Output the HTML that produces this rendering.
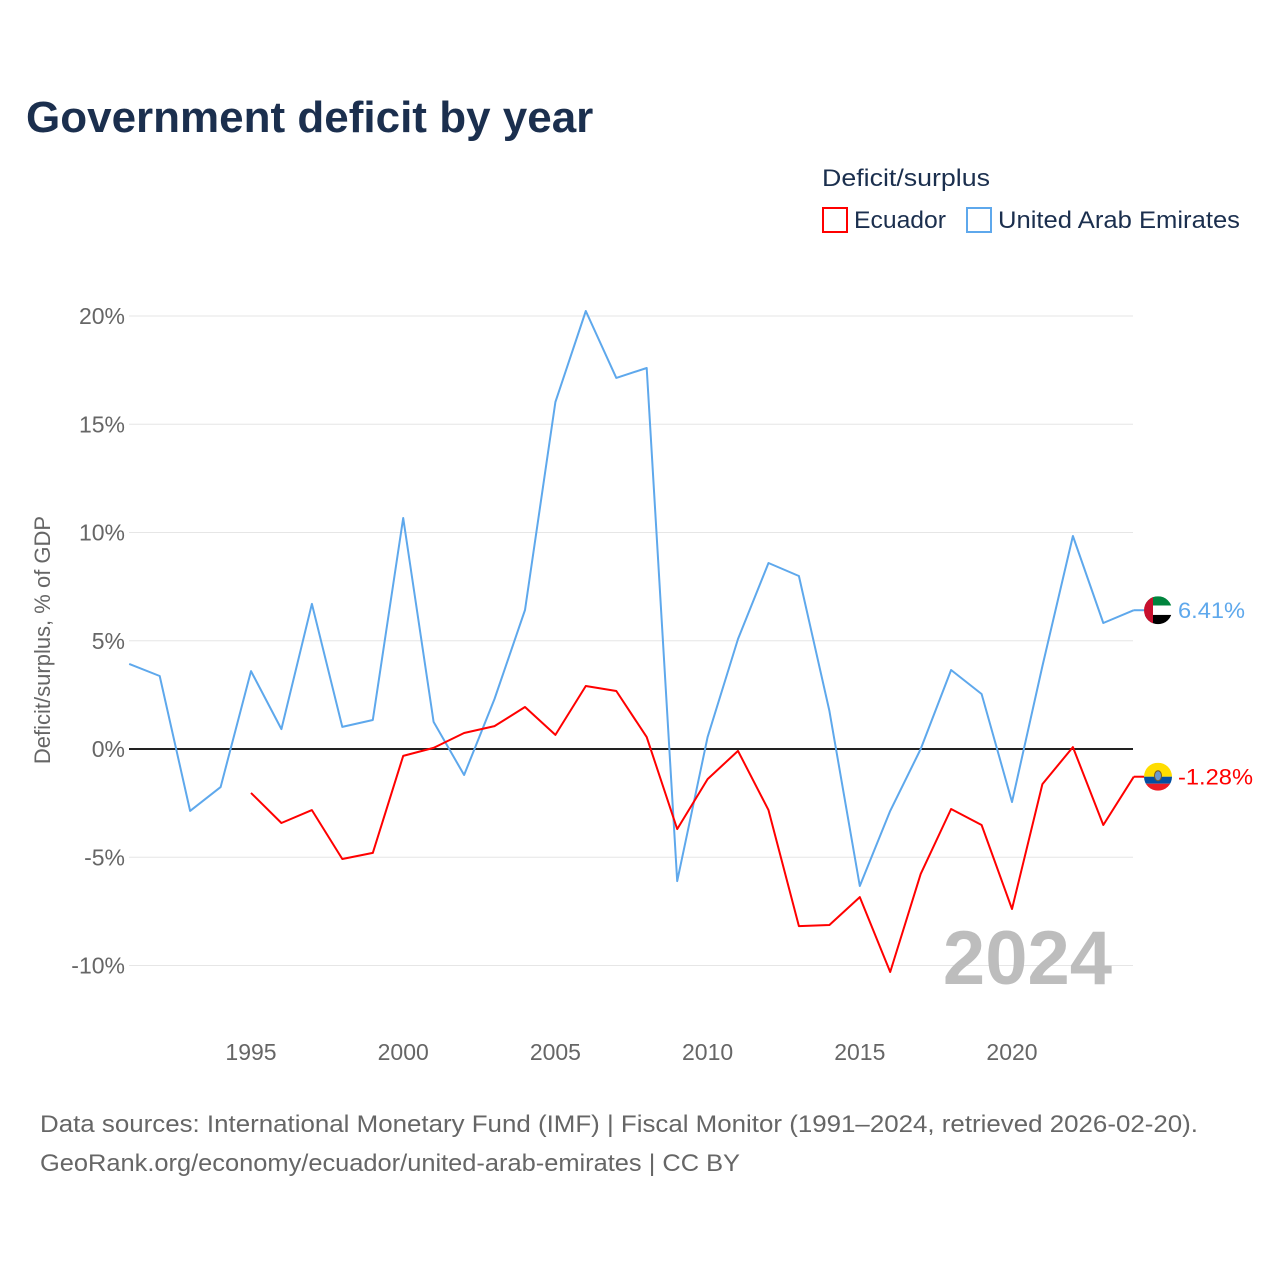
<!DOCTYPE html>
<html><head><meta charset="utf-8">
<style>
html,body{margin:0;padding:0;background:#fff;}
body{width:1280px;height:1280px;position:relative;font-family:"Liberation Sans",sans-serif;overflow:hidden;}
</style></head>
<body>
<svg id="chart" width="1280" height="1280" xmlns="http://www.w3.org/2000/svg" style="position:absolute;left:0;top:0;font-family:'Liberation Sans',sans-serif">
  <text x="26" y="132" font-size="44" font-weight="bold" fill="#1b2f4e">Government deficit by year</text>
  <text x="822" y="186" font-size="24" fill="#1b2f4e" textLength="168" lengthAdjust="spacingAndGlyphs">Deficit/surplus</text>
  <g>
    <rect x="823" y="208" width="24" height="24" fill="none" stroke="#ff0000" stroke-width="2"/>
    <text x="854" y="228" font-size="24" fill="#1b2f4e" textLength="92" lengthAdjust="spacingAndGlyphs">Ecuador</text>
  </g>
  <g>
    <rect x="967" y="208" width="24" height="24" fill="none" stroke="#5ea8ec" stroke-width="2"/>
    <text x="998" y="228" font-size="24" fill="#1b2f4e" textLength="242" lengthAdjust="spacingAndGlyphs">United Arab Emirates</text>
  </g>
  <g id="grid"></g>
  <g id="xticks"></g>
  <text transform="translate(50,640) rotate(-90)" text-anchor="middle" font-size="22" fill="#666">Deficit/surplus, % of GDP</text>
  <text x="1112" y="984" text-anchor="end" font-size="76" font-weight="bold" fill="#bdbdbd">2024</text>
  <g id="series"></g>
  <text x="40" y="1132" font-size="24" fill="#666" textLength="1158" lengthAdjust="spacingAndGlyphs">Data sources: International Monetary Fund (IMF) | Fiscal Monitor (1991–2024, retrieved 2026-02-20).</text>
  <text x="40" y="1171" font-size="24" fill="#666" textLength="700" lengthAdjust="spacingAndGlyphs">GeoRank.org/economy/ecuador/united-arab-emirates | CC BY</text>
</svg>
<script>
const years = [];
for (let y = 1991; y <= 2024; y++) years.push(y);
const uaeValues = [3.93,3.37,-2.86,-1.76,3.6,0.92,6.7,1.02,1.34,10.67,1.25,-1.2,2.31,6.42,16.03,20.23,17.14,17.6,-6.1,0.55,5.08,8.59,7.99,1.76,-6.33,-2.86,0,3.65,2.54,-2.45,3.83,9.84,5.82,6.41];
const ecuadorValues = [null,null,null,null,-2.03,-3.42,-2.82,-5.08,-4.8,-0.32,0.05,0.74,1.06,1.94,0.65,2.91,2.68,0.55,-3.7,-1.39,-0.09,-2.82,-8.18,-8.13,-6.84,-10.3,-5.77,-2.77,-3.51,-7.39,-1.62,0.09,-3.51,-1.28];
const yTicks = [20,15,10,5,0,-5,-10];
const yTickLabels = ["20%","15%","10%","5%","0%","-5%","-10%"];
const xTicks = [1995,2000,2005,2010,2015,2020];

const xS = y => 251 + (y - 1995) * (1012 - 251) / 25;
const yS = v => 749 - v * (749 - 316) / 20;
const NS = "http://www.w3.org/2000/svg";
const mk = (t, a, p) => { const e = document.createElementNS(NS, t); for (const k in a) e.setAttribute(k, a[k]); p.appendChild(e); return e; };

const grid = document.getElementById('grid');
yTicks.forEach((v, i) => {
  const l = mk('line', {x1:129, x2:1133, y1:yS(v), y2:yS(v), stroke: v===0 ? '#222' : '#e6e6e6', 'stroke-width': v===0 ? 2 : 1}, grid);
  
  
  const t = mk('text', {x:125, y:yS(v)+8, 'text-anchor':'end', 'font-size':23, fill:'#666'}, grid);
  t.textContent = yTickLabels[i];
  
  
});
const xt = document.getElementById('xticks');
xTicks.forEach(y => {
  const t = mk('text', {x:xS(y), y:1060, 'text-anchor':'middle', 'font-size':23, fill:'#666'}, xt);
  t.textContent = y;
  
  
});

const ser = document.getElementById('series');
function drawLine(vals, color, name) {
  let d = '', started = false;
  vals.forEach((v, i) => {
    if (v === null) return;
    d += (started ? 'L' : 'M') + xS(years[i]).toFixed(1) + ',' + yS(v).toFixed(1);
    started = true;
  });
  const p = mk('path', {d: d, fill:'none', stroke: color, 'stroke-width': 2, 'stroke-linejoin':'round'}, ser);
  
  
}
drawLine(uaeValues, '#5ea8ec', 'uae-line');
drawLine(ecuadorValues, '#ff0000', 'ecuador-line');

function endLabel(vals, color, name, flag, w) {
  const v = vals[vals.length - 1];
  const cx = 1158, cy = yS(v);
  const g = mk('g', {}, ser);
  
  
  mk('line', {x1:xS(2024), x2:cx-14, y1:cy, y2:cy, stroke:color, 'stroke-width':2}, g);
  const clipId = name + '-clip';
  const cp = mk('clipPath', {id: clipId}, g);
  mk('circle', {cx:cx, cy:cy, r:14}, cp);
  const fg = mk('g', {'clip-path':'url(#'+clipId+')'}, g);
  if (flag === 'uae') {
    mk('rect', {x:cx-14, y:cy-14, width:28, height:9.3, fill:'#00843d'}, fg);
    mk('rect', {x:cx-14, y:cy-4.7, width:28, height:9.4, fill:'#fff'}, fg);
    mk('rect', {x:cx-14, y:cy+4.7, width:28, height:9.3, fill:'#000'}, fg);
    mk('rect', {x:cx-14, y:cy-14, width:9, height:28, fill:'#c8102e'}, fg);
  } else {
    mk('rect', {x:cx-14, y:cy-14, width:28, height:14, fill:'#ffdd00'}, fg);
    mk('rect', {x:cx-14, y:cy, width:28, height:7, fill:'#034ea2'}, fg);
    mk('rect', {x:cx-14, y:cy+7, width:28, height:7, fill:'#ed1c24'}, fg);
    mk('ellipse', {cx:cx, cy:cy-1, rx:3.5, ry:5, fill:'#6a9ad0', stroke:'#7a5a20', 'stroke-width':1}, fg);
  }
  const t = mk('text', {x:cx+20, y:cy+8, 'font-size':22, fill:color, textLength:w, lengthAdjust:'spacingAndGlyphs'}, g);
  t.textContent = v.toFixed(2) + '%';
}
endLabel(uaeValues, '#5ea8ec', 'uae-end-label', 'uae', 67);
endLabel(ecuadorValues, '#ff0000', 'ecuador-end-label', 'ec', 75);
</script>
</body></html>
